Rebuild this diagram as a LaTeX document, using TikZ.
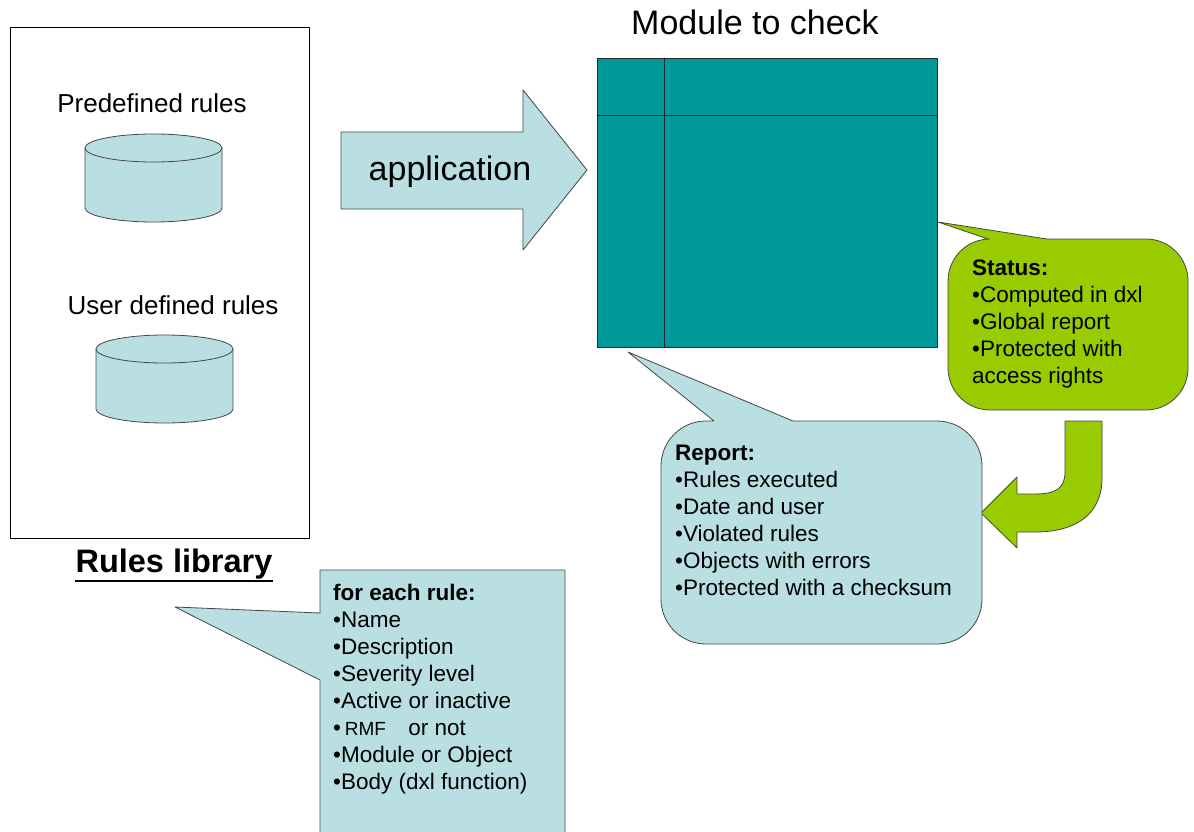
\documentclass[tikz,border=0pt]{standalone}
\usepackage{fontspec}
\setmainfont{Liberation Sans}

\definecolor{modteal}{RGB}{0,153,153}
\definecolor{paleblue}{RGB}{185,223,226}
\definecolor{statusgreen}{RGB}{153,204,0}
\definecolor{edgegray}{RGB}{70,70,70}

\begin{document}
\begin{tikzpicture}[x=1pt,y=-1pt,line cap=round,line join=round]
        \useasboundingbox (0,0) rectangle (1194,832);
        \tikzset{
            outline/.style={draw=edgegray,line width=0.8pt},
            txt/.style={inner sep=0pt,font=\fontsize{22.5}{27}\selectfont},
            bigtxt/.style={inner sep=0pt,font=\fontsize{34}{40}\selectfont},
            midtxt/.style={inner sep=0pt,font=\fontsize{26}{31}\selectfont}
        }

        % Bibliotheque de regles
        \draw[black,line width=0.7pt] (10,27) rectangle (309,538);
        \node[midtxt] (predef) at (152,103) {Predefined rules};
        \node[midtxt] (userdef) at (173,305) {User defined rules};
        \node[bigtxt,font=\fontsize{32.5}{38}\selectfont\bfseries] (library) at (174,564) {Rules library};
        \draw[black,line width=2pt,line cap=butt] (library.south west |- 0,581) -- (library.south east |- 0,581);

        % Cylindres
        \fill[paleblue] (85,148) -- (85,208) arc[start angle=180,end angle=0,x radius=68.5,y radius=14] -- (222,148) -- cycle;
        \draw[outline] (85,148) -- (85,208) arc[start angle=180,end angle=0,x radius=68.5,y radius=14] -- (222,148);
        \draw[outline,fill=paleblue] (153.5,148) ellipse[x radius=68.5,y radius=14];
        \fill[paleblue] (96,349) -- (96,409) arc[start angle=180,end angle=0,x radius=68.5,y radius=14] -- (233,349) -- cycle;
        \draw[outline] (96,349) -- (96,409) arc[start angle=180,end angle=0,x radius=68.5,y radius=14] -- (233,349);
        \draw[outline,fill=paleblue] (164.5,349) ellipse[x radius=68.5,y radius=14];

        % Fleche application
        \draw[outline,fill=paleblue] (341,132) -- (523,132) -- (523,90) -- (587,170)
            -- (523,250) -- (523,209) -- (341,209) -- cycle;
        \node[bigtxt] (appl) at (450,172) {application};

        % Module a verifier
        \node[bigtxt] (modtitle) at (755,22) {Module to check};
        \draw[draw=black!85,line width=0.8pt,fill=modteal] (597,58) rectangle (937,347);
        \draw[black!85,line width=0.8pt] (664,58) -- (664,347);
        \draw[black!85,line width=0.8pt] (597,115) -- (937,115);

        % Bulle status
        \draw[outline,fill=statusgreen] (1047,239) [rounded corners=42] -- (1188,239) -- (1188,410)
            -- (948,410) -- (948,239) [sharp corners] -- (988,239) -- (938,222) -- cycle;
        \node[txt,anchor=north west,align=left] (status) at (972,260)
            {\textbf{Status:}\\•Computed in dxl\\•Global report\\•Protected with\\access rights};

        % Fleche courbe
        \draw[outline,fill=statusgreen] (1065,421) -- (1102,421) -- (1102,478)
            .. controls (1102,515) and (1075,532) .. (1035,532) -- (1017,532) -- (1017,548)
            -- (981,513) -- (1017,477) -- (1017,494) -- (1035,494)
            .. controls (1056,494) and (1065,488) .. (1065,472) -- cycle;

        % Bulle rapport
        \draw[outline,fill=paleblue] (793,421) [rounded corners=45] -- (982,421) -- (982,644)
            -- (661,644) -- (661,421) [sharp corners] -- (714,421) -- (628,352) -- cycle;
        \node[txt,anchor=north west,align=left] (report) at (675,445)
            {\textbf{Report:}\\•Rules executed\\•Date and user\\•Violated rules\\•Objects with errors\\•Protected with a checksum};

        % Bulle regles
        \draw[outline,fill=paleblue] (320,613) -- (320,570) -- (565,570) -- (565,845)
            -- (320,845) -- (320,680) -- (175,607) -- cycle;
        \node[txt,anchor=north west,align=left] (rulefields) at (333,584)
            {\textbf{for each rule:}\\•Name\\•Description\\•Severity level\\•Active or inactive\\•\,{\fontsize{19}{27}\selectfont RMF}\quad or not\\•Module or Object\\•Body (dxl function)};

    \end{tikzpicture}
\end{document}
